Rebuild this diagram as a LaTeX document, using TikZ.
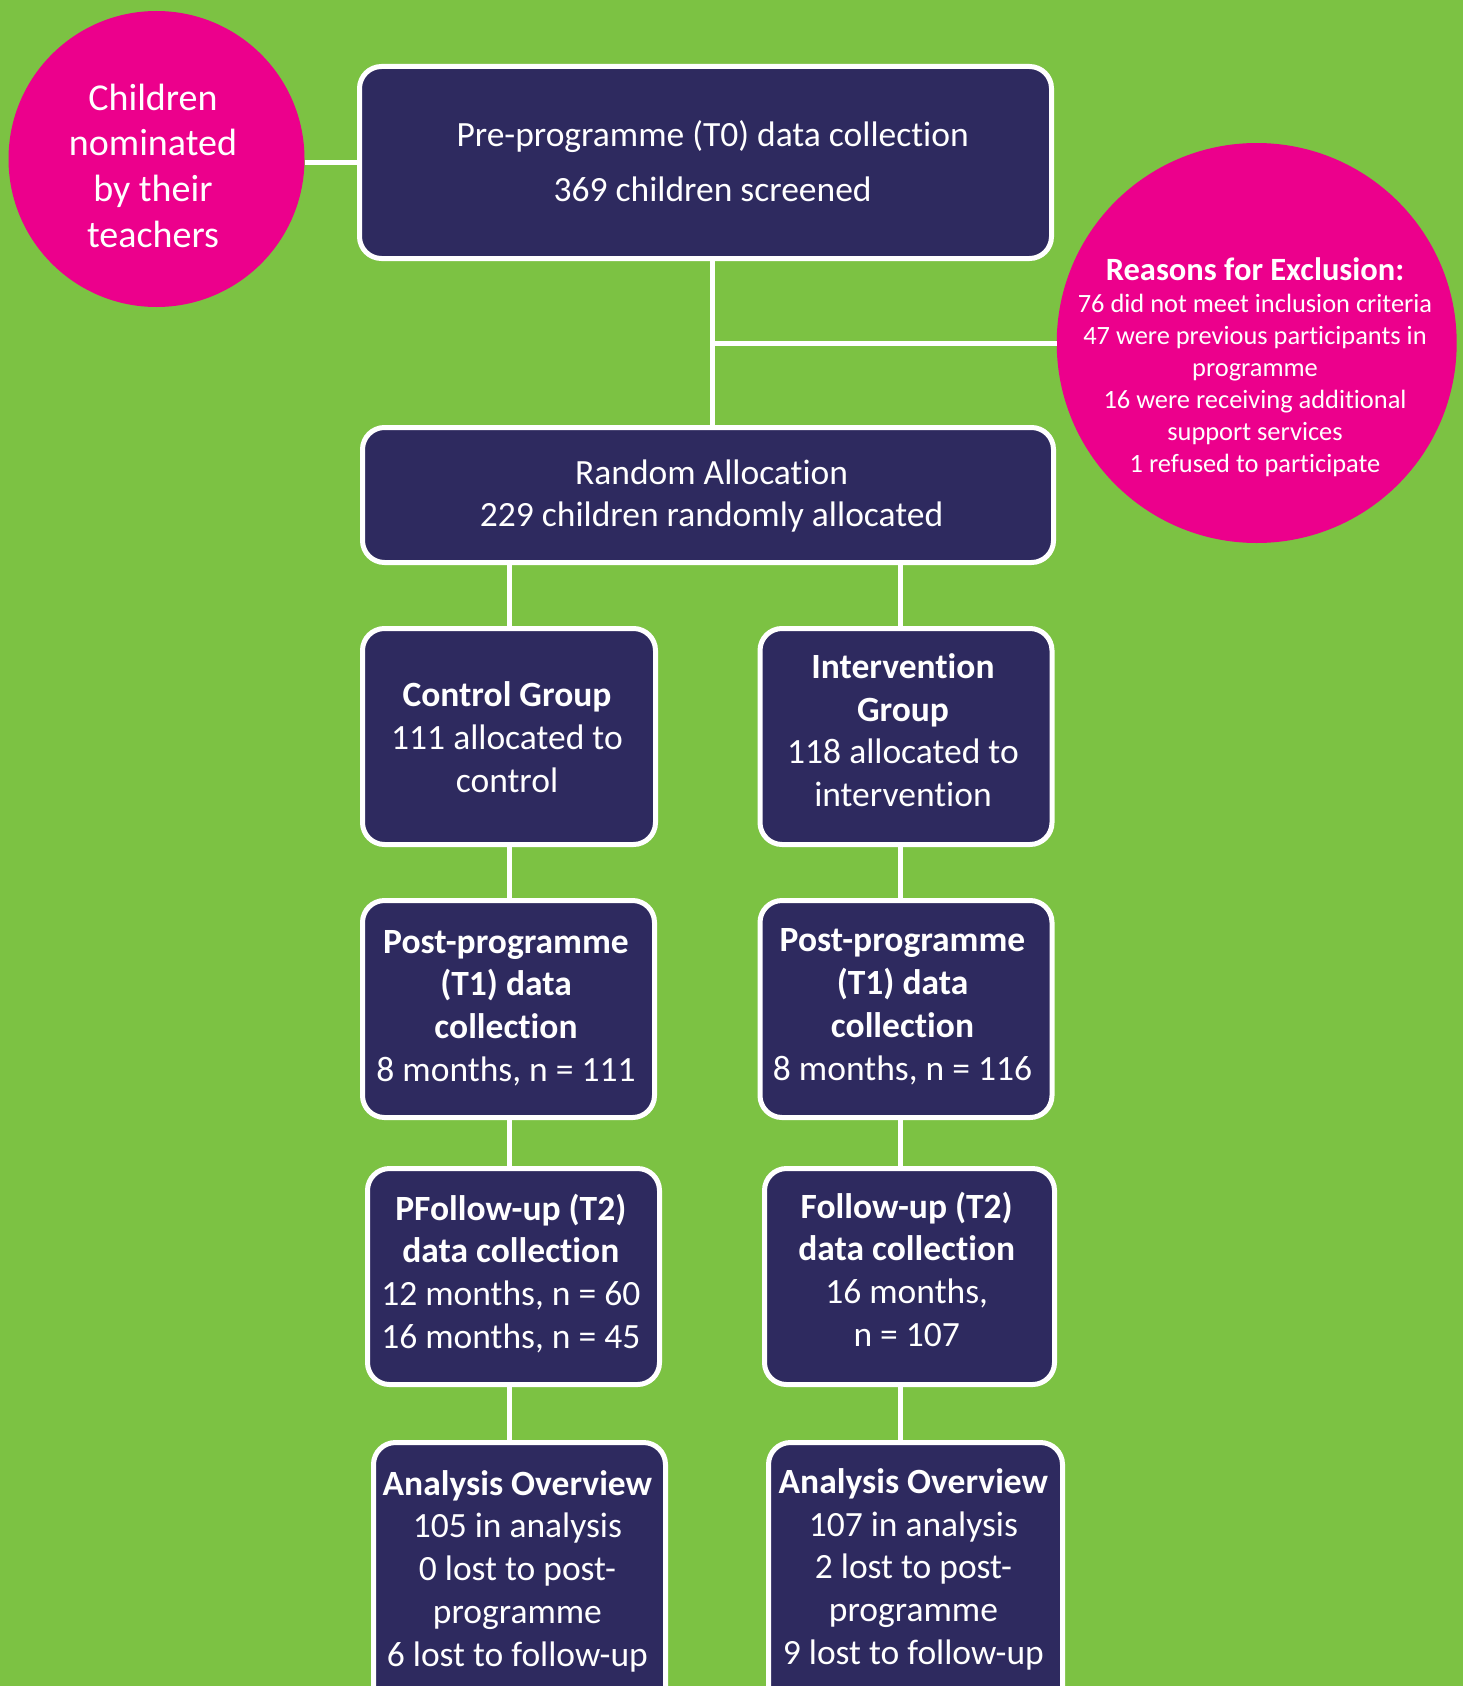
\documentclass[tikz,border=0pt]{standalone}
\usepackage{fontspec}
\setmainfont{Carlito}[Ligatures=NoCommon]
\definecolor{bggreen}{HTML}{7CC243}
\definecolor{navy}{HTML}{2E2A5F}
\definecolor{hotpink}{HTML}{EC008C}
\newcommand\ctext[1]{\vtop{\halign{\hfil##\hfil\cr#1\crcr}}}
\begin{document}
\begin{tikzpicture}[x=1pt,y=-1pt,
  box/.style={rectangle, draw=white, line width=5pt, fill=navy, rounded corners=22pt, inner sep=0pt},
  circ/.style={circle, fill=hotpink, inner sep=0pt},
  lbl/.style={text=white, anchor=base, inner sep=0pt, font=\fontsize{35.5}{42.8}\selectfont},
  conn/.style={draw=white, line width=5pt}]
\useasboundingbox (0,0) rectangle (1463,1686);
\clip (0,0) rectangle (1463,1686);
\fill[bggreen] (0,0) rectangle (1463,1686);

\coordinate (spine) at (712,0);
\coordinate (colL) at (509,0);
\coordinate (colR) at (900,0);

% circles
\node[circ, minimum size=296pt] (nom) at (156.5,159) {};
\node[lbl, font=\fontsize{38}{46}\selectfont] (nomt) at (153,110) {\ctext{Children\cr nominated\cr by their\cr teachers}};
\node[circ, minimum size=400pt] (excl) at (1256.7,343) {};
\node[lbl, font=\fontsize{26.4}{32}\selectfont] (exclt) at (1255,280) {\ctext{{\fontsize{32.5}{32}\selectfont\bfseries Reasons for Exclusion:}\cr
76 did not meet inclusion criteria\cr
47 were previous participants in\cr
programme\cr
16 were receiving additional\cr
support services\cr
1 refused to participate}};

% boxes
\node[box, minimum width=692pt, minimum height=192pt] (pre) at (705.5,162.5) {};
\node[lbl, font=\fontsize{35.5}{55}\selectfont] (pret) at (712.6,146.7) {\ctext{Pre-programme (T0) data collection\cr 369 children screened}};

\node[box, minimum width=691pt, minimum height=135pt] (ra) at (708,495) {};
\node[lbl] (rat) at (711.6,484) {\ctext{Random Allocation\cr 229 children randomly allocated}};

\node[box, minimum width=293pt, minimum height=216pt] (ctrl) at (509,736.5) {};
\node[lbl] (ctrlt) at (507,706.7) {\ctext{{\bfseries Control Group}\cr 111 allocated to\cr control}};

\node[box, minimum width=292pt, minimum height=216pt] (int) at (906,736.5) {};
\node[lbl] (intt) at (903,678.3) {\ctext{{\bfseries Intervention}\cr {\bfseries Group}\cr 118 allocated to\cr intervention}};

\node[box, minimum width=292pt, minimum height=217pt] (postL) at (508.5,1009) {};
\node[lbl] (postLt) at (506,953) {\ctext{{\bfseries Post-programme}\cr {\bfseries (T1) data}\cr {\bfseries collection}\cr 8 months, n = 111}};

\node[box, minimum width=292pt, minimum height=217pt] (postR) at (906,1009) {};
\node[lbl] (postRt) at (902.5,951.7) {\ctext{{\bfseries Post-programme}\cr {\bfseries (T1) data}\cr {\bfseries collection}\cr 8 months, n = 116}};

\node[box, minimum width=292pt, minimum height=216pt] (folL) at (513.5,1276.5) {};
\node[lbl] (folLt) at (510.8,1220) {\ctext{{\bfseries PFollow-up (T2)}\cr {\bfseries data collection}\cr 12 months, n = 60\cr 16 months, n = 45}};

\node[box, minimum width=290pt, minimum height=216pt] (folR) at (909.5,1276.5) {};
\node[lbl] (folRt) at (906.7,1218) {\ctext{{\bfseries Follow-up (T2)}\cr {\bfseries data collection}\cr 16 months,\cr n = 107}};

\node[box, minimum width=292pt, minimum height=290pt] (anaL) at (519.5,1587.5) {};
\node[lbl] (anaLt) at (517.4,1495) {\ctext{{\bfseries Analysis Overview}\cr 105 in analysis\cr 0 lost to post-\cr programme\cr 6 lost to follow-up}};

\node[box, minimum width=294pt, minimum height=290pt] (anaR) at (915.5,1587.5) {};
\node[lbl] (anaRt) at (913.4,1493.3) {\ctext{{\bfseries Analysis Overview}\cr 107 in analysis\cr 2 lost to post-\cr programme\cr 9 lost to follow-up}};

% connectors
\draw[conn] (nom.east |- pre.west) -- (pre.west);
\draw[conn] (pre.south -| spine) -- (ra.north -| spine);
\draw[conn] (spine |- excl.west) -- (excl.west);
\draw[conn] (ra.south -| colL) -- (ctrl.north -| colL);
\draw[conn] (ra.south -| colR) -- (int.north -| colR);
\draw[conn] (ctrl.south -| colL) -- (postL.north -| colL);
\draw[conn] (int.south -| colR) -- (postR.north -| colR);
\draw[conn] (postL.south -| colL) -- (folL.north -| colL);
\draw[conn] (postR.south -| colR) -- (folR.north -| colR);
\draw[conn] (folL.south -| colL) -- (anaL.north -| colL);
\draw[conn] (folR.south -| colR) -- (anaR.north -| colR);
\end{tikzpicture}
\end{document}
